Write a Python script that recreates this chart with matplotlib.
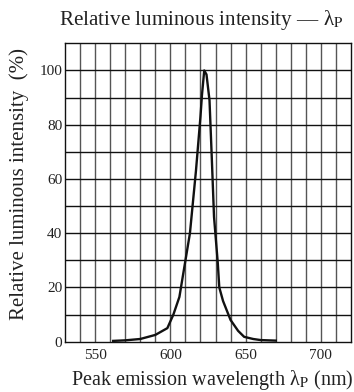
import numpy as np
import matplotlib
matplotlib.use("Agg")
import matplotlib.pyplot as plt

# spectrum
wavelength = [562, 570, 580, 590, 598, 602, 606, 613, 617, 620, 621, 622.5,
              624, 626, 627.5, 629, 631.5, 632.5, 635, 640, 645, 649, 655, 660, 670]
intensity = [0.3, 0.5, 1, 2.5, 5, 10, 16.5, 40, 63, 83, 91, 100,
             98.5, 89, 68, 46, 29, 20, 15, 8, 4, 1.8, 1, 0.6, 0.4]

x_ticks = [550, 600, 650, 700]
y_ticks = [0, 20, 40, 60, 80, 100]

plt.rcParams["font.family"] = ["Liberation Serif", "DejaVu Serif"]
plt.rcParams["mathtext.fontset"] = "stix"

fig = plt.figure(figsize=(3.54, 3.92), dpi=100)
ax = fig.add_axes([65 / 354, 1 - 341.7 / 392, 286 / 354, 298.4 / 392])

ax.set_xlim(530, 720)
ax.set_ylim(0, 110)

for xv in np.arange(540, 720, 10):
    ax.axvline(xv, color="#555555", lw=1.0, zorder=1)
for yv in np.arange(10, 110, 10):
    ax.axhline(yv, color="#111111", lw=1.0, zorder=1)

ax.plot(wavelength, intensity, color="#111111", lw=1.7, zorder=3)

ax.set_xticks(x_ticks)
ax.set_yticks(y_ticks)
ax.tick_params(length=0, labelsize=11, colors="#222222")
ax.tick_params(axis="x", pad=5)
ax.tick_params(axis="y", pad=2)
for s in ax.spines.values():
    s.set_linewidth(1.0)
    s.set_color("#111111")

fig.text(201 / 354, 1 - 20 / 392, r"Relative luminous intensity — λ$_\mathrm{P}$",
         ha="center", va="center", fontsize=15.2, color="#222222")
fig.text(212 / 354, 1 - 380 / 392, r"Peak emission wavelength λ$_\mathrm{P}$ (nm)",
         ha="center", va="center", fontsize=14.5, color="#222222")
fig.text(19 / 354, 1 - 184 / 392, "Relative luminous intensity  (%)",
         ha="center", va="center", rotation=90, fontsize=15, color="#222222")

fig.savefig("out.png", dpi=100)
